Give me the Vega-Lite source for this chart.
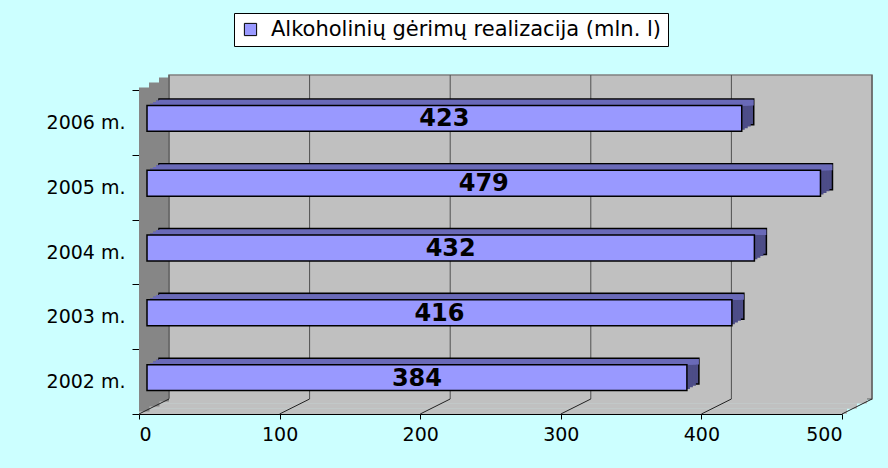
{
  "$schema": "https://vega.github.io/schema/vega-lite/v6.json",
  "width": 703,
  "height": 324,
  "autosize": {"type": "none"},
  "padding": {"left": 139, "top": 90, "right": 46, "bottom": 54},
  "background": "#ccffff",
  "config": {
    "view": {"stroke": null},
    "font": "DejaVu Sans",
    "axisX": {"labelFont": "DejaVu Sans", "labelFontSize": 19, "labelColor": "black", "tickSize": 5, "tickColor": "black", "domainColor": "black", "labelPadding": 6, "grid": false},
    "axisY": {"labelFont": "DejaVu Sans", "labelFontSize": 19, "labelColor": "black", "tickSize": 7, "tickColor": "black", "domainColor": "#404040", "labelPadding": 7, "grid": false, "tickBand": "extent"}
  },
  "datasets": {
    "sales": [
      {"year": "2006 m.", "value": 423},
      {"year": "2005 m.", "value": 479},
      {"year": "2004 m.", "value": 432},
      {"year": "2003 m.", "value": 416},
      {"year": "2002 m.", "value": 384}
    ],
    "ticks": [{"t": 0}, {"t": 100}, {"t": 200}, {"t": 300}, {"t": 400}, {"t": 500}],
    "one": [{"k": 1}]
  },
  "layer": [
    {
      "data": {"name": "sales"},
      "mark": {"type": "bar", "fill": "#9999ff", "height": {"band": 0.4}, "opacity": 0},
      "encoding": {
        "x": {"field": "value", "type": "quantitative", "scale": {"domain": [0, 500], "nice": false}, "axis": {"title": null, "values": [0, 100, 200, 300, 400, 500]}},
        "y": {"field": "year", "type": "nominal", "sort": ["2006 m.", "2005 m.", "2004 m.", "2003 m.", "2002 m."], "scale": {"paddingInner": 0, "paddingOuter": 0}, "axis": {"title": null}}
      }
    },
    {
      "data": {"name": "one"},
      "mark": {"type": "rect", "fill": "#c0c0c0", "stroke": "#808080", "strokeWidth": 1.5, "xOffset": 30, "x2Offset": 30, "yOffset": -15, "y2Offset": -15},
      "encoding": {"x": {"datum": 0, "type": "quantitative"}, "x2": {"datum": 500}, "y": {"value": 0}, "y2": {"value": "height"}}
    },
    {
      "data": {"name": "one"},
      "mark": {"type": "rect", "fill": "#c0c0c0", "yOffset": -16, "y2Offset": -10.5, "x2Offset": 25},
      "encoding": {"x": {"datum": 0, "type": "quantitative"}, "x2": {"datum": 500}, "y": {"value": "height"}, "y2": {"value": "height"}}
    },
    {
      "data": {"name": "one"},
      "mark": {"type": "rect", "fill": "#c0c0c0", "yOffset": -10.7, "y2Offset": -5.2, "x2Offset": 15},
      "encoding": {"x": {"datum": 0, "type": "quantitative"}, "x2": {"datum": 500}, "y": {"value": "height"}, "y2": {"value": "height"}}
    },
    {
      "data": {"name": "one"},
      "mark": {"type": "rect", "fill": "#c0c0c0", "yOffset": -5.4, "y2Offset": 0, "x2Offset": 5},
      "encoding": {"x": {"datum": 0, "type": "quantitative"}, "x2": {"datum": 500}, "y": {"value": "height"}, "y2": {"value": "height"}}
    },
    {
      "data": {"name": "one"},
      "mark": {"type": "rect", "fill": "#868686", "xOffset": 0, "x2Offset": 10.5, "yOffset": -2.5, "y2Offset": -2.5},
      "encoding": {"x": {"datum": 0, "type": "quantitative"}, "x2": {"datum": 0}, "y": {"value": 0}, "y2": {"value": "height"}}
    },
    {
      "data": {"name": "one"},
      "mark": {"type": "rect", "fill": "#868686", "xOffset": 10, "x2Offset": 20.5, "yOffset": -7.5, "y2Offset": -7.5},
      "encoding": {"x": {"datum": 0, "type": "quantitative"}, "x2": {"datum": 0}, "y": {"value": 0}, "y2": {"value": "height"}}
    },
    {
      "data": {"name": "one"},
      "mark": {"type": "rect", "fill": "#868686", "xOffset": 20, "x2Offset": 30, "yOffset": -12.5, "y2Offset": -12.5},
      "encoding": {"x": {"datum": 0, "type": "quantitative"}, "x2": {"datum": 0}, "y": {"value": 0}, "y2": {"value": "height"}}
    },
    {
      "data": {"name": "ticks"},
      "mark": {"type": "rule", "stroke": "#505050", "strokeWidth": 1, "xOffset": 30, "yOffset": -15, "y2Offset": -15},
      "encoding": {"x": {"field": "t", "type": "quantitative", "title": null}, "y": {"value": 0}, "y2": {"value": "height"}}
    },
    {
      "data": {"name": "ticks"},
      "mark": {"type": "rule", "stroke": "#202020", "strokeWidth": 1, "x2Offset": 30, "y2Offset": -15},
      "encoding": {"x": {"field": "t", "type": "quantitative", "title": null}, "x2": {"field": "t"}, "y": {"value": "height"}, "y2": {"value": "height"}}
    },
    {
      "data": {"name": "sales"},
      "mark": {"type": "bar", "fill": "#4d4d88", "stroke": "black", "strokeWidth": 1.5, "height": {"band": 0.4}, "xOffset": 20, "x2Offset": 20, "yOffset": -10.5, "y2Offset": -10.5},
      "encoding": {
        "x": {"field": "value", "type": "quantitative", "title": null},
        "y": {"field": "year", "type": "nominal", "sort": ["2006 m.", "2005 m.", "2004 m.", "2003 m.", "2002 m."], "title": null}
      }
    },
    {
      "data": {"name": "sales"},
      "mark": {"type": "bar", "fill": "#4d4d88", "height": {"band": 0.4}, "xOffset": 17, "x2Offset": 17, "yOffset": -8.9, "y2Offset": -8.9},
      "encoding": {
        "x": {"field": "value", "type": "quantitative", "title": null},
        "y": {"field": "year", "type": "nominal", "sort": ["2006 m.", "2005 m.", "2004 m.", "2003 m.", "2002 m."], "title": null}
      }
    },
    {
      "data": {"name": "sales"},
      "mark": {"type": "bar", "fill": "#4d4d88", "height": {"band": 0.4}, "xOffset": 14, "x2Offset": 14, "yOffset": -7.2, "y2Offset": -7.2},
      "encoding": {
        "x": {"field": "value", "type": "quantitative", "title": null},
        "y": {"field": "year", "type": "nominal", "sort": ["2006 m.", "2005 m.", "2004 m.", "2003 m.", "2002 m."], "title": null}
      }
    },
    {
      "data": {"name": "sales"},
      "mark": {"type": "bar", "fill": "#4d4d88", "height": {"band": 0.4}, "xOffset": 11, "x2Offset": 11, "yOffset": -5.6, "y2Offset": -5.6},
      "encoding": {
        "x": {"field": "value", "type": "quantitative", "title": null},
        "y": {"field": "year", "type": "nominal", "sort": ["2006 m.", "2005 m.", "2004 m.", "2003 m.", "2002 m."], "title": null}
      }
    },
    {
      "data": {"name": "sales"},
      "mark": {"type": "bar", "fill": "#6a6ab8", "height": 5.6, "xOffset": 20, "x2Offset": 20, "yOffset": -19.8, "y2Offset": -19.8},
      "encoding": {
        "x": {"field": "value", "type": "quantitative", "title": null},
        "y": {"field": "year", "type": "nominal", "sort": ["2006 m.", "2005 m.", "2004 m.", "2003 m.", "2002 m."], "title": null}
      }
    },
    {
      "data": {"name": "sales"},
      "mark": {"type": "bar", "fill": "#6a6ab8", "height": 4.9, "xOffset": 17, "x2Offset": 17, "yOffset": -19.45, "y2Offset": -19.45},
      "encoding": {
        "x": {"field": "value", "type": "quantitative", "title": null},
        "y": {"field": "year", "type": "nominal", "sort": ["2006 m.", "2005 m.", "2004 m.", "2003 m.", "2002 m."], "title": null}
      }
    },
    {
      "data": {"name": "sales"},
      "mark": {"type": "bar", "fill": "#6a6ab8", "height": 3.2, "xOffset": 14, "x2Offset": 14, "yOffset": -18.6, "y2Offset": -18.6},
      "encoding": {
        "x": {"field": "value", "type": "quantitative", "title": null},
        "y": {"field": "year", "type": "nominal", "sort": ["2006 m.", "2005 m.", "2004 m.", "2003 m.", "2002 m."], "title": null}
      }
    },
    {
      "data": {"name": "sales"},
      "mark": {"type": "bar", "fill": "#6a6ab8", "height": 1.6, "xOffset": 11, "x2Offset": 11, "yOffset": -17.8, "y2Offset": -17.8},
      "encoding": {
        "x": {"field": "value", "type": "quantitative", "title": null},
        "y": {"field": "year", "type": "nominal", "sort": ["2006 m.", "2005 m.", "2004 m.", "2003 m.", "2002 m."], "title": null}
      }
    },
    {
      "data": {"name": "sales"},
      "mark": {"type": "bar", "stroke": "black", "strokeWidth": 1.5, "height": {"band": 0.4}, "xOffset": 8, "x2Offset": 8, "yOffset": -4, "y2Offset": -4},
      "encoding": {
        "x": {"field": "value", "type": "quantitative", "title": null},
        "y": {"field": "year", "type": "nominal", "sort": ["2006 m.", "2005 m.", "2004 m.", "2003 m.", "2002 m."], "title": null},
        "color": {
          "datum": "Alkoholinių gėrimų realizacija (mln. l)",
          "type": "nominal",
          "scale": {"range": ["#9999ff"]},
          "legend": {"title": null, "orient": "none", "legendX": 95, "legendY": -77, "fillColor": "white", "strokeColor": "black", "padding": 6, "symbolType": "square", "symbolSize": 150, "symbolStrokeColor": "black", "symbolStrokeWidth": 1, "labelFont": "DejaVu Sans", "labelFontSize": 21, "labelColor": "black", "labelOffset": 10, "labelLimit": 0}
        }
      }
    },
    {
      "data": {"name": "sales"},
      "mark": {"type": "text", "font": "DejaVu Sans", "fontWeight": "bold", "fontSize": 24, "color": "black", "align": "center", "baseline": "middle", "xOffset": 8, "yOffset": -3},
      "encoding": {
        "x": {"field": "value", "type": "quantitative", "stack": "zero", "bandPosition": 0.5, "title": null},
        "y": {"field": "year", "type": "nominal", "sort": ["2006 m.", "2005 m.", "2004 m.", "2003 m.", "2002 m."], "title": null},
        "text": {"field": "value", "type": "quantitative"}
      }
    }
  ]
}
